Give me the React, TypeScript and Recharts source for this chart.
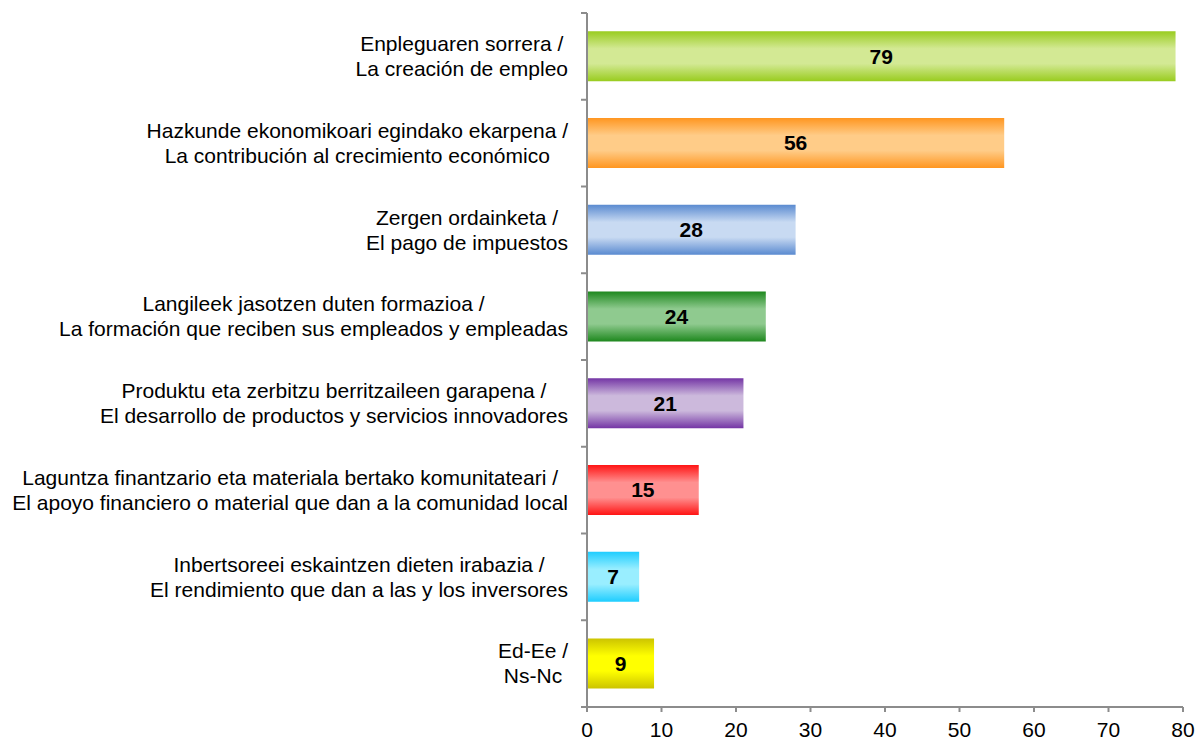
import React from 'react';
import { BarChart, Bar, XAxis, YAxis, Cell, LabelList } from 'recharts';

const euLabels = [
  'Enpleguaren sorrera /',
  'Hazkunde ekonomikoari egindako ekarpena /',
  'Zergen ordainketa /',
  'Langileek jasotzen duten formazioa /',
  'Produktu eta zerbitzu berritzaileen garapena /',
  'Laguntza finantzario eta materiala bertako komunitateari /',
  'Inbertsoreei eskaintzen dieten irabazia /',
  'Ed-Ee /',
];
const esLabels = [
  'La creación de empleo',
  'La contribución al crecimiento económico',
  'El pago de impuestos',
  'La formación que reciben sus empleados y empleadas',
  'El desarrollo de productos y servicios innovadores',
  'El apoyo financiero o material que dan a la comunidad local',
  'El rendimiento que dan a las y los inversores',
  'Ns-Nc',
];
const values = [79, 56, 28, 24, 21, 15, 7, 9];
const xTicks = [0, 10, 20, 30, 40, 50, 60, 70, 80];

const darkColors = ['#99CC1F', '#FF9620', '#5A8AD0', '#1E881E', '#7435A5', '#FF1414', '#1ECDFF', '#CCC400'];
const lightColors = ['#D3E994', '#FFCC88', '#C8DAF2', '#8FCA8F', '#CCB9DC', '#FF9090', '#99EEFF', '#FFFF00'];

const data = values.map((v, i) => ({ name: String(i), value: v }));

const FONT = '"Liberation Sans", Arial, sans-serif';
const FS = 21;
const AXIS = '#8C8C8C';
const TICK_GAP = 19;

let ctx: CanvasRenderingContext2D | null = null;
function measure(t: string): number {
  if (!ctx) {
    const c = document.createElement('canvas');
    ctx = c.getContext('2d');
  }
  if (!ctx) return t.length * FS * 0.5;
  ctx.font = `${FS}px "Liberation Sans"`;
  return ctx.measureText(t).width;
}

const CategoryTick = (props: any) => {
  const { x, y, payload, index } = props;
  const i = Number(payload.value);
  const lines = [euLabels[i], esLabels[i]];
  const w = Math.max(...lines.map(measure));
  const cx = x - w / 2;
  const axisX = x + TICK_GAP;
  const half = payload.offset || 0;
  const last = index === values.length - 1;
  return (
    <g>
      <line x1={axisX - 6} x2={axisX} y1={y - half} y2={y - half} stroke={AXIS} strokeWidth={2} />
      {last && (
        <line x1={axisX - 6} x2={axisX} y1={y + half} y2={y + half} stroke={AXIS} strokeWidth={2} />
      )}
      {lines.map((l, k) => (
        <text
          key={k}
          x={cx}
          y={y + (k - 0.5) * 25}
          dy="0.35em"
          textAnchor="middle"
          fontFamily={FONT}
          fontSize={FS}
          fill="#000"
        >
          {l}
        </text>
      ))}
    </g>
  );
};

export default function App() {
  return (
    <div style={{ position: 'absolute', left: 0, top: 0, background: '#fff' }}>
      <BarChart
        width={1197}
        height={740}
        data={data}
        layout="vertical"
        margin={{ top: 13, right: 14, bottom: 0, left: 0 }}
        barCategoryGap="21%"
      >
        <defs>
          {darkColors.map((d, i) => (
            <linearGradient key={i} id={`g${i}`} x1="0" y1="0" x2="0" y2="1">
              <stop offset="0" stopColor={d} />
              <stop offset="0.35" stopColor={lightColors[i]} />
              <stop offset="0.65" stopColor={lightColors[i]} />
              <stop offset="1" stopColor={d} />
            </linearGradient>
          ))}
        </defs>
        <XAxis
          type="number"
          domain={[0, 80]}
          ticks={xTicks}
          interval={0}
          height={33}
          axisLine={{ stroke: AXIS, strokeWidth: 2 }}
          tickLine={{ stroke: AXIS, strokeWidth: 2 }}
          tickSize={5}
          tickMargin={10}
          tick={{ fill: '#000', fontSize: FS, fontFamily: FONT }}
        />
        <YAxis
          type="category"
          dataKey="name"
          width={587}
          axisLine={{ stroke: AXIS, strokeWidth: 2 }}
          tickLine={false}
          tickSize={0}
          tickMargin={TICK_GAP}
          interval={0}
          tick={<CategoryTick />}
        />
        <Bar dataKey="value" isAnimationActive={false}>
          {data.map((d, i) => (
            <Cell key={i} fill={`url(#g${i})`} />
          ))}
          <LabelList
            dataKey="value"
            position="center"
            fill="#000"
            fontSize={21}
            fontWeight="bold"
            fontFamily={FONT}
          />
        </Bar>
      </BarChart>
    </div>
  );
}
